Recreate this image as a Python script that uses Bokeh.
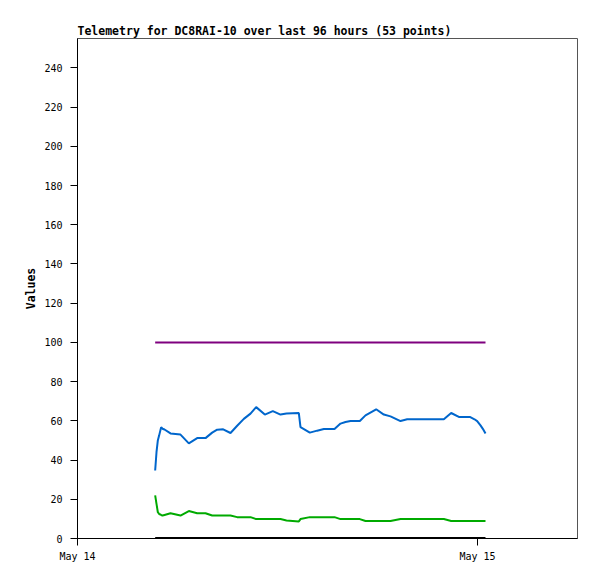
from datetime import datetime, timedelta
from bokeh.plotting import figure
from bokeh.models import Range1d, FixedTicker, DatetimeTickFormatter
from bokeh.embed import file_html
from bokeh.resources import INLINE

# hours after May 14 00:00 (UTC)
hours = [4.66, 4.74, 4.82, 4.90, 5.02, 5.10, 5.22, 5.58, 6.18, 6.68,
         7.18, 7.68, 8.08, 8.38, 8.74, 9.18, 9.58, 9.98, 10.38, 10.72,
         11.24, 11.72, 12.18, 12.54, 13.28, 13.38, 13.94, 14.38, 14.78, 15.42,
         15.78, 16.08, 16.38, 16.94, 17.28, 17.92, 18.38, 18.78, 19.38, 19.78,
         20.28, 20.88, 21.48, 21.98, 22.42, 22.88, 23.22, 23.54, 23.82, 23.98,
         24.18, 24.33, 24.48]
blue = [34.7, 44, 50, 52.6, 56.8, 56, 55.6, 53.6, 53, 48.5,
        51.2, 51.2, 54, 55.5, 55.7, 53.8, 57.5, 61, 63.7, 67,
        63.2, 65, 63.2, 63.7, 64, 56.8, 54, 55, 55.8, 55.8,
        58.6, 59.4, 59.9, 59.9, 62.8, 65.9, 63.2, 62.3, 59.9, 60.8,
        60.8, 60.8, 60.8, 60.8, 64, 62, 62, 62, 60.8, 59.9,
        57.7, 55.8, 53.5]
green = [22, 17.7, 13.4, 12.5, 12, 11.7, 12, 12.9, 11.7, 14,
         12.9, 12.9, 11.7, 11.7, 11.7, 11.7, 10.9, 10.9, 10.9, 9.9,
         9.9, 9.9, 9.9, 9.2, 8.7, 9.9, 10.9, 10.9, 10.9, 10.9,
         9.9, 9.9, 9.9, 9.9, 8.9, 8.9, 8.9, 8.9, 9.9, 9.9,
         9.9, 9.9, 9.9, 9.9, 8.9, 8.9, 8.9, 8.9, 8.9, 8.9,
         8.9, 8.9, 8.9]
purple = [100] * 53
black = [0] * 53

base = datetime(2024, 5, 14)
times = [base + timedelta(hours=h) for h in hours]
tick_days = [base, base + timedelta(days=1)]
tick_ms = [(d - datetime(1970, 1, 1)).total_seconds() * 1000 for d in tick_days]

MONO = "DejaVu Sans Mono"

p = figure(width=597, height=579, x_axis_type="datetime",
           output_backend="svg", toolbar_location=None,
           x_range=Range1d(base, base + timedelta(hours=30)),
           y_range=Range1d(0, 255),
           min_border_left=77, min_border_right=20,
           min_border_top=38, min_border_bottom=41,
           title="Telemetry for DC8RAI-10 over last 96 hours (53 points)")

p.title.text_font = MONO
p.title.text_font_size = "11.5px"
p.title.text_font_style = "bold"
p.title.text_color = "black"
p.title.align = "left"
p.title.offset = 0
p.title.standoff = 2

p.xgrid.visible = False
p.ygrid.visible = False
p.outline_line_color = "#555555"
p.outline_line_width = 1

p.xaxis.ticker = FixedTicker(ticks=tick_ms)
p.xaxis.formatter = DatetimeTickFormatter(days="%b %d", hours="%b %d", months="%b %d")
p.yaxis.ticker = FixedTicker(ticks=list(range(0, 241, 20)))
p.yaxis.axis_label = "Values"

for ax in (p.xaxis, p.yaxis):
    ax.axis_line_color = "black"
    ax.major_tick_line_color = "black"
    ax.minor_tick_line_color = None
    ax.major_tick_in = 0
    ax.major_tick_out = 7
    ax.major_label_text_font = MONO
    ax.major_label_text_font_size = "10px"
    ax.major_label_text_color = "black"
    ax.axis_label_text_font = MONO
    ax.axis_label_text_font_size = "11.5px"
    ax.axis_label_text_font_style = "bold"
    ax.axis_label_text_color = "black"

p.yaxis.major_label_standoff = 8
p.xaxis.major_label_standoff = 5
p.yaxis.axis_label_standoff = 3

p.line(times, purple, line_color="#7f007f", line_width=2)
p.line(times, blue, line_color="#0066cc", line_width=2)
p.line(times, green, line_color="#00aa00", line_width=2)
p.line(times, black, line_color="black", line_width=3)

open("out.html", "w").write(file_html(p, INLINE))
